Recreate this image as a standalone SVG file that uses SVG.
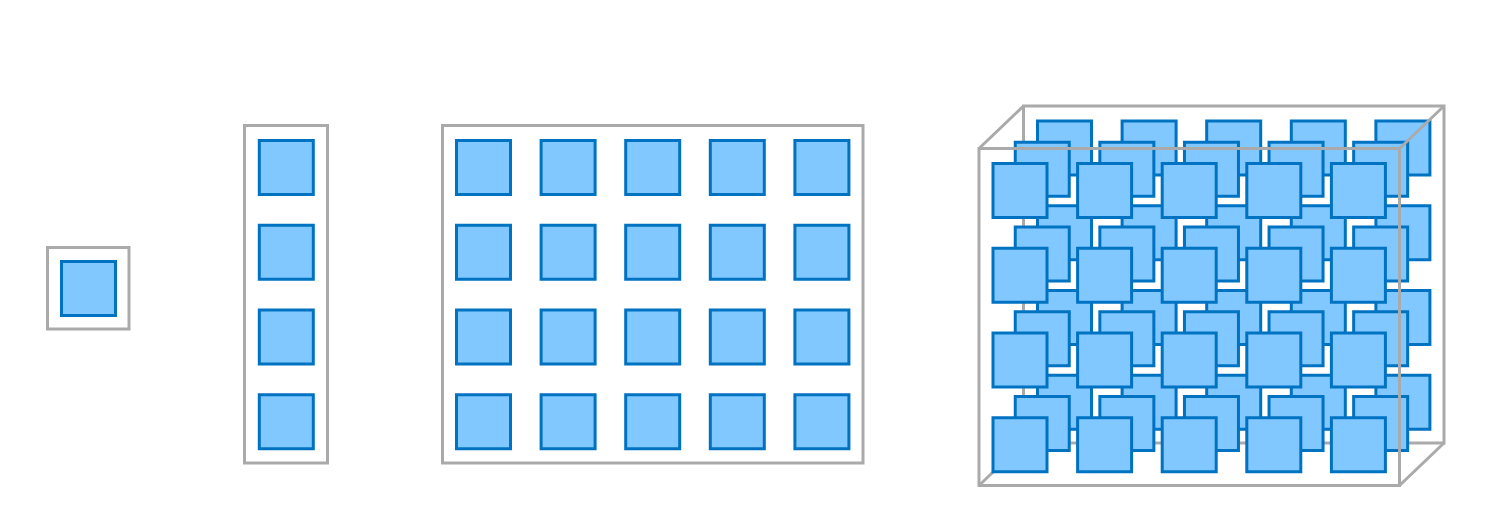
<svg xmlns="http://www.w3.org/2000/svg" xmlns:xlink="http://www.w3.org/1999/xlink" width="1505" height="531" viewBox="0 0 1505 531">
<style>
.sq{fill:#80c8ff;stroke:#0072c2;stroke-width:3}
.fr{fill:none;stroke:#aaaaaa;stroke-width:3}
</style>
<defs>
<rect id="s" class="sq" x="-27" y="-27" width="54" height="54"/>
<g id="col">
<use href="#s" y="0"/>
<use href="#s" y="84.75"/>
<use href="#s" y="169.5"/>
<use href="#s" y="254.25"/>
</g>
<g id="grid">
<use href="#col" x="0"/>
<use href="#col" x="84.6"/>
<use href="#col" x="169.2"/>
<use href="#col" x="253.8"/>
<use href="#col" x="338.4"/>
</g>
</defs>
<rect width="1505" height="531" fill="#ffffff"/>
<g id="scalar">
<rect class="fr" x="47.5" y="247.5" width="81.5" height="81.5"/>
<use href="#s" x="88.5" y="288.5"/>
</g>
<g id="vector">
<rect class="fr" x="244.5" y="125.5" width="83" height="337.5"/>
<use href="#col" x="286.3" y="167.5"/>
</g>
<g id="matrix">
<rect class="fr" x="442.5" y="125.5" width="420.5" height="337.5"/>
<use href="#grid" x="483.5" y="167.5"/>
</g>
<g id="tensor">
<rect class="fr" x="1023.5" y="106" width="420.5" height="337"/>
<use href="#grid" x="1064.5" y="148"/>
<use href="#grid" x="1042.25" y="169.25"/>
<rect class="fr" x="979" y="148.5" width="420.5" height="337"/>
<path class="fr" d="M979 148.5L1023.5 106M1399.5 148.5L1444 106M1399.5 485.5L1444 443M979 485.5L1023.5 443"/>
<use href="#grid" x="1020" y="190.5"/>
</g>
</svg>
